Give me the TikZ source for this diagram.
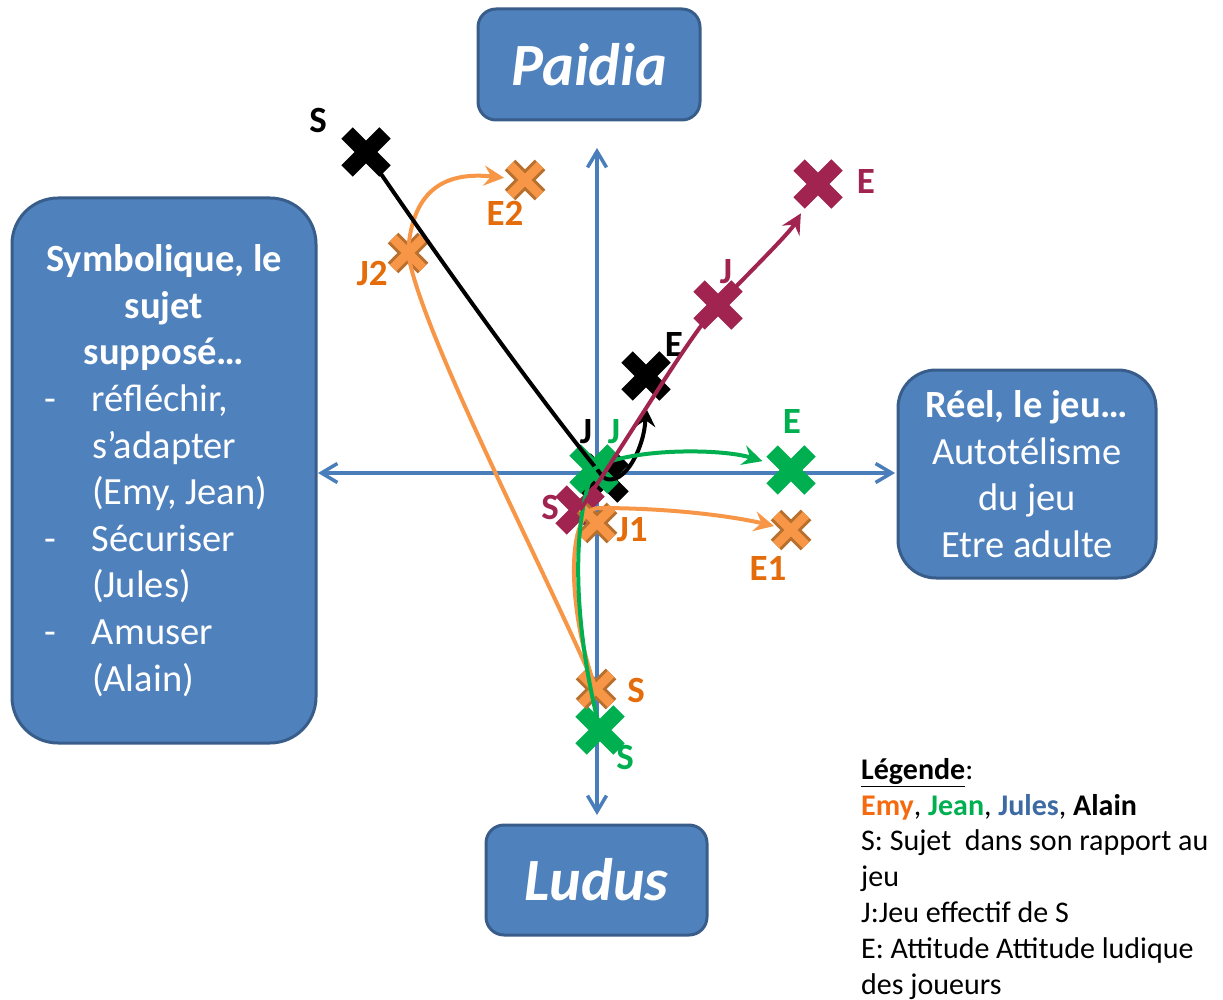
\documentclass[tikz,border=0pt]{standalone}
\usepackage{fontspec}
\setmainfont{Carlito}
\usetikzlibrary{arrows.meta,shapes.misc,positioning}
\definecolor{boxfill}{HTML}{4F81BD}
\definecolor{boxline}{HTML}{385D8A}
\definecolor{axisblue}{HTML}{4A7EBB}
\definecolor{emy}{HTML}{F79646}
\definecolor{emyline}{HTML}{B8702F}
\definecolor{emytext}{HTML}{E46C0A}
\definecolor{emyleg}{HTML}{F5690F}
\definecolor{jean}{HTML}{00B050}
\definecolor{jules}{HTML}{A0244F}
\definecolor{julesleg}{HTML}{3D6AA3}

\begin{document}
\begin{tikzpicture}[x=1pt, y=-1pt,
        pole/.style={rectangle, rounded corners=18pt, draw=boxline, line width=3pt, fill=boxfill, text=white, font=\fontsize{60}{72}\selectfont\bfseries\itshape, minimum width=222pt, minimum height=111pt},
        sidebox/.style={rectangle, draw=boxline, line width=3pt, fill=boxfill, text=white, font=\fontsize{38.5}{46.6}\selectfont, inner sep=0pt},
        axisline/.style={draw=axisblue, line width=3.5pt, {Straight Barb[length=16pt,width=19pt]}-{Straight Barb[length=16pt,width=19pt]}},
        mk/.style={cross out, draw=#1, line width=16pt, minimum size=22pt, inner sep=0pt},
        mkemy/.style={cross out, draw=emyline, double=emy, line width=3pt, double distance=9pt, minimum size=27pt, inner sep=0pt},
        lab/.style={font=\fontsize{37}{42}\selectfont\bfseries, text=#1, inner sep=0pt},
        track/.style={draw=#1, line width=4pt},
        trackarrow/.style={draw=#1, line width=4pt, -{Stealth[length=20pt,width=20pt,inset=7pt]}}
    ]
    \useasboundingbox (0,0) rectangle (1223,1000);

    % Poles
    \node[pole] (paidia) at (589,64.5) {Paidia};
    \node[pole, minimum width=221pt, minimum height=110pt] (ludus) at (596.5,880) {Ludus};
    \node[sidebox, rounded corners=46pt, minimum width=304pt, minimum height=545pt, align=left] (symb) at (164,470.5) {%
        \makebox[240pt]{\bfseries Symbolique, le}\\
        \makebox[240pt]{\bfseries sujet}\\
        \makebox[240pt]{\bfseries supposé…}\\
        \makebox[48pt][l]{-}réfléchir,\\
        \hspace*{48pt}s’adapter\\
        \hspace*{48pt}(Emy, Jean)\\
        \makebox[48pt][l]{-}Sécuriser\\
        \hspace*{48pt}(Jules)\\
        \makebox[48pt][l]{-}Amuser\\
        \hspace*{48pt}(Alain)};
    \node[sidebox, rounded corners=38pt, minimum width=258pt, minimum height=208pt, align=center] (reel) at (1027,474) {\textbf{Réel, le jeu…}\\Autotélisme\\du jeu\\Etre adulte};

    % Axes
    \coordinate (ytop) at (597,148);
    \coordinate (ybot) at (597,815);
    \coordinate (xleft) at (318,473);
    \coordinate (xright) at (895,473);
    \draw[axisline] (xleft) -- (xright);
    \draw[axisline] (ytop) -- (ybot);

    % Markers
    \node[mk=black] (bS) at (366,152) {};
    \node[mk=black] (bJ) at (604,478) {};
    \node[mk=black] (bE) at (646,376) {};
    \node[mk=jean] (gS) at (600,730) {};
    \node[mk=jean] (gJ) at (594,469) {};
    \node[mk=jean] (gE) at (791,470) {};
    \node[mk=jules] (mS) at (580,510) {};
    \node[mk=jules] (mJ) at (718,305) {};
    \node[mk=jules] (mE) at (818,184) {};
    \node[mkemy] (oS) at (596,689) {};
    \node[mkemy] (oJ1) at (597,523) {};
    \node[mkemy] (oE1) at (791,530) {};
    \node[mkemy] (oJ2) at (408,253) {};
    \node[mkemy] (oE2) at (525,180) {};

    % Labels
    \node[lab=black] (bSlab) at (318,120) {S};
    \node[lab=black] (bJlab) at (586,432) {J};
    \node[lab=black] (bElab) at (674,345) {E};
    \node[lab=jean] (gSlab) at (625,757) {S};
    \node[lab=jean] (gJlab) at (614,432) {J};
    \node[lab=jean] (gElab) at (792,422) {E};
    \node[lab=jules] (mSlab) at (550,507) {S};
    \node[lab=jules] (mJlab) at (726,272) {J};
    \node[lab=jules] (mElab) at (866,182) {E};
    \node[lab=emytext] (oSlab) at (636,690) {S};
    \node[lab=emytext] (oJ1lab) at (632,530) {J1};
    \node[lab=emytext] (oE1lab) at (768,568) {E1};
    \node[lab=emytext] (oJ2lab) at (372,273) {J2};
    \node[lab=emytext] (oE2lab) at (505,213) {E2};

    % Tracks
    \draw[track=emy] (oJ2.center) .. controls (420,330) and (540,560) .. (oS.center);
    \draw[trackarrow=emy, shorten >=6pt] (oJ2.center) .. controls (412,185) and (450,172) .. (oE2);
    \draw[track=emy] (oS.center) .. controls (570,620) and (563,515) .. (oJ1.north);
    \draw[trackarrow=emy, shorten >=2pt] (oJ1.north) .. controls (680,508) and (740,518) .. (oE1);
    \draw[track=black] (bS) .. controls (440,260) and (540,400) .. (bJ.center);
    \draw[trackarrow=black, shorten >=12pt] (bJ.center) .. controls (625,488) and (645,445) .. (bE);
    \draw[track=jean] (gS.center) .. controls (572,620) and (572,520) .. (gJ.center);
    \draw[trackarrow=jean, shorten >=10pt] (gJ.center) .. controls (625,448) and (720,448) .. (gE);
    \draw[track=jules] (mS.center) .. controls (640,420) and (690,335) .. (mJ.center);
    \draw[trackarrow=jules, shorten >=12pt] (mJ.center) .. controls (760,262) and (790,232) .. (mE);

    % Legend
    \node[anchor=north west, align=left, inner sep=0pt, font=\fontsize{30}{35.8}\selectfont] (legend) at (861,758) {%
        \underline{\textbf{Légende}}:\\
        \textbf{\color{emyleg}Emy}, \textbf{\color{jean}Jean}, \textbf{\color{julesleg}Jules}, \textbf{Alain}\\
        S: Sujet\ \ dans son rapport au\\
        jeu\\
        J:Jeu effectif de S\\
        E: Attitude Attitude ludique\\
        des joueurs};
\end{tikzpicture}
\end{document}
